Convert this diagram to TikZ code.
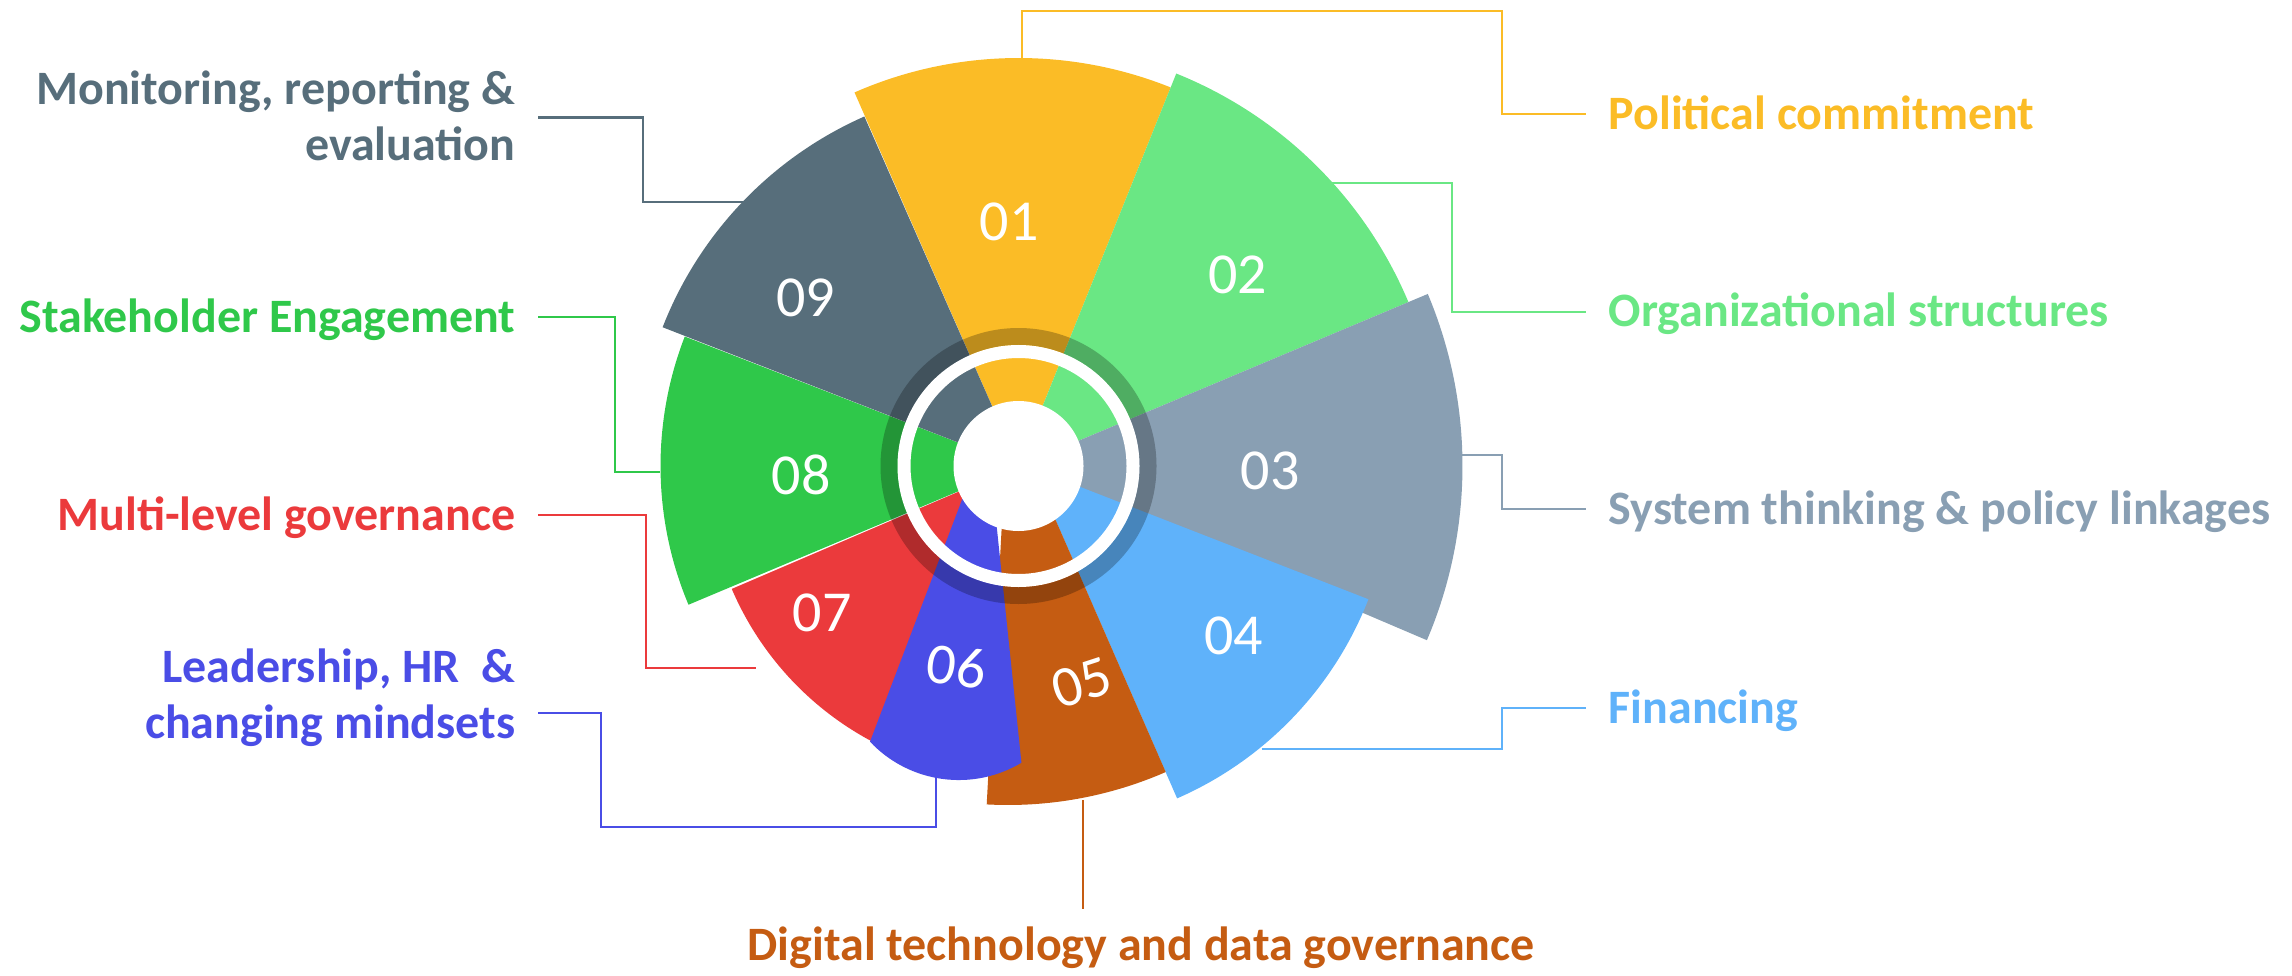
\documentclass[tikz,border=0pt]{standalone}
\usepackage{fontspec}
\setmainfont{Carlito}
\usepackage{xcolor}
\usetikzlibrary{positioning}

\definecolor{cyellow}{RGB}{251,188,38}
\definecolor{cmint}{RGB}{106,231,132}
\definecolor{csteel}{RGB}{137,159,179}
\definecolor{csky}{RGB}{95,178,250}
\definecolor{crust}{RGB}{197,92,18}
\definecolor{cviolet}{RGB}{74,77,230}
\definecolor{cred}{RGB}{235,58,60}
\definecolor{cgreen}{RGB}{47,200,74}
\definecolor{cslate}{RGB}{87,110,123}

\tikzset{
	num/.style		= {text=white, inner sep=0pt, font=\fontsize{16.5}{18}\selectfont},
	lbl/.style		= {font=\bfseries\fontsize{13.65}{16}\selectfont, text height=8.65pt, text depth=0pt, inner ysep=0pt, inner xsep=0.22cm},
	lbltwo/.style	= {lbl, text height=24.65pt},
	lleft/.style	= {anchor=east, align=right},
	lright/.style	= {anchor=west, align=left},
	link/.style		= {line width=0.6pt}
}

\begin{document}
\begin{tikzpicture}
\useasboundingbox (0,0) rectangle (22.92,-9.76);

\coordinate	(C)		at (10.185,-4.66);
\coordinate	(a4)	at (10.33,-4.685);
\coordinate	(a5)	at (10.08,-4.11);
\coordinate	(a6)	at (9.87,-4.34);

\fill[cyellow]	(C)		-- ++(68.1:4.08)	arc[start angle=68.1, end angle=113.7, radius=4.08]		-- cycle;
\fill[cmint]	(C)		-- ++(22.8:4.23)	arc[start angle=22.8, end angle=68.1, radius=4.23]		-- cycle;
\fill[csteel]	(C)		-- ++(-23.1:4.44)	arc[start angle=-23.1, end angle=22.8, radius=4.44]		-- cycle;
\fill[csky]		(a4)	-- ++(-66.4:3.60)	arc[start angle=-66.4, end angle=-21.3, radius=3.60]	-- cycle;
\fill[crust]	(a5)	-- ++(-93.1:3.94)	arc[start angle=-93.1, end angle=-66.4, radius=3.94]	-- cycle;
\fill[cred]		(C)		-- ++(-156.8:3.12)	arc[start angle=-156.8, end angle=-118.2, radius=3.12]	-- cycle;
\fill[cgreen]	(C)		-- ++(158.8:3.58)	arc[start angle=158.8, end angle=202.8, radius=3.58]	-- cycle;
\fill[cslate]	(C)		-- ++(113.8:3.82)	arc[start angle=113.8, end angle=158.7, radius=3.82]	-- cycle;
\fill[cviolet]	(a6)	-- (8.70,-7.417)	arc[start angle=-136.7, end angle=-59.1, radius=1.22]	-- cycle;

\fill[black, opacity=0.25, even odd rule] (C) circle (1.38) (C) circle (1.21);
\draw[white, line width=0.13cm] (C) circle (1.145);
\fill[white] (C) circle (0.65);

\node[num]				(n1)	at (10.09,-2.217)	{01};
\node[num]				(n2)	at (12.375,-2.75)	{02};
\node[num]				(n3)	at (12.703,-4.713)	{03};
\node[num]				(n4)	at (12.337,-6.358)	{04};
\node[num, rotate=18]	(n5)	at (10.817,-6.825)	{05};
\node[num, rotate=-8]	(n6)	at (9.567,-6.667)	{06};
\node[num]				(n7)	at (8.22,-6.125)	{07};
\node[num]				(n8)	at (8.013,-4.75)	{08};
\node[num]				(n9)	at (8.058,-2.983)	{09};

\node[lbl, lright, text=cyellow]	(l1)	at (15.86,-1.143)	{Political commitment};
\node[lbl, lright, text=cmint]		(l2)	at (15.86,-3.117)	{Organizational structures};
\node[lbl, lright, text=csteel]		(l3)	at (15.86,-5.093)	{System thinking \& policy linkages};
\node[lbl, lright, text=csky]		(l4)	at (15.86,-7.083)	{Financing};
\node[lbl, anchor=north, text=crust, inner ysep=0.2cm]	(l5)	at (11.41,-9.09)	{Digital technology and data governance};
\node[lbltwo, lleft, text=cviolet]	(l6)	at (5.38,-6.953)	{Leadership, HR\ \ \&\\changing mindsets};
\node[lbl, lleft, text=cred]		(l7)	at (5.38,-5.153)	{Multi-level governance};
\node[lbl, lleft, text=cgreen]		(l8)	at (5.38,-3.172)	{Stakeholder Engagement};
\node[lbltwo, lleft, text=cslate]	(l9)	at (5.38,-1.175)	{Monitoring, reporting \&\\evaluation};

\coordinate	(s1)	at (10.217,-0.60);
\coordinate	(s2)	at (13.30,-1.833);
\coordinate	(s3)	at (14.60,-4.55);
\coordinate	(s4)	at (12.617,-7.493);
\coordinate	(s5)	at (10.833,-8.00);
\coordinate	(s6)	at (9.36,-7.767);
\coordinate	(s7)	at (7.56,-6.677);
\coordinate	(s8)	at (6.60,-4.723);
\coordinate	(s9)	at (7.433,-2.023);

\coordinate	(k1)	at (15.02,-0.107);
\coordinate	(k2)	at (14.52,-1.833);
\coordinate	(k3)	at (15.02,-4.55);
\coordinate	(k4)	at (15.02,-7.493);
\coordinate	(k6)	at (6.01,-8.267);
\coordinate	(k7)	at (6.46,-6.677);
\coordinate	(k8)	at (6.152,-4.723);
\coordinate	(k9)	at (6.433,-2.023);

\draw[link, cyellow]	(s1)	|- (k1)	|- (l1.west);
\draw[link, cmint]		(s2)	-- (k2)	|- (l2.west);
\draw[link, csteel]		(s3)	-- (k3)	|- (l3.west);
\draw[link, csky]		(s4)	-- (k4)	|- (l4.west);
\draw[link, crust]		(s5)	-- (s5 |- l5.north);
\draw[link, cviolet]	([yshift=-0.18cm]l6.east)	-| (k6)	-| (s6);
\draw[link, cred]		(l7.east)	-| (k7)	-- (s7);
\draw[link, cgreen]		(l8.east)	-| (k8)	-- (s8);
\draw[link, cslate]		(l9.east)	-| (k9)	-- (s9);
\end{tikzpicture}
\end{document}
